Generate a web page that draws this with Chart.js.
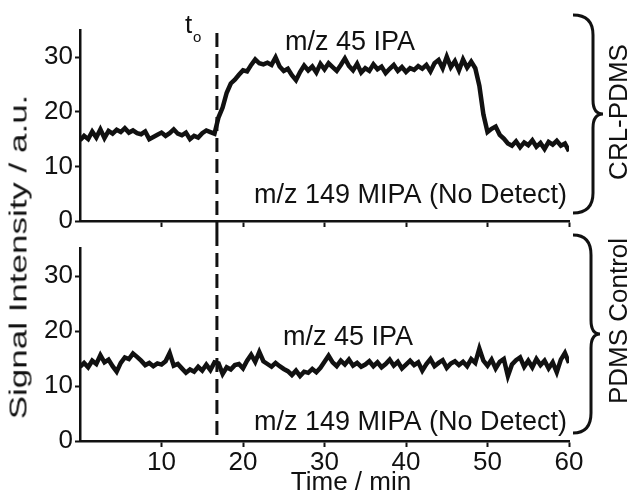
<!DOCTYPE html>
<html>
<head>
<meta charset="utf-8">
<script src="https://cdn.jsdelivr.net/npm/chart.js@4.4.1/dist/chart.umd.min.js"></script>
<style>
    body { margin: 0; background: #fff; }
    #wrap { position: relative; width: 633px; height: 493px; overflow: hidden; }
    canvas { position: absolute; left: 0; }
    #ytitle {
        position: absolute; left: 19px; top: 257px;
        font: 23px "Liberation Sans", Arial, sans-serif; color: #111;
        white-space: nowrap;
        transform: translate(-50%, -50%) rotate(-90deg) scaleX(1.52);
    }
</style>
</head>
<body>
<div id="wrap">
    <canvas id="chartTop" width="633" height="232" style="top:0"></canvas>
    <canvas id="chartBottom" width="633" height="261" style="top:232px"></canvas>
    <div id="ytitle">Signal Intensity / a.u.</div>
</div>
<script>
// sample times (min)
const times = [
    0, 0.5, 1, 1.5, 2, 2.5, 3, 3.5, 4, 4.5, 5, 5.5, 6, 6.5, 7, 7.5, 8, 8.5, 9, 9.5,
    10, 10.5, 11, 11.5, 12, 12.5, 13, 13.5, 14, 14.5, 15, 15.5, 16, 16.5, 17, 17.5, 18, 18.5, 19, 19.5,
    20, 20.5, 21, 21.5, 22, 22.5, 23, 23.5, 24, 24.5, 25, 25.5, 26, 26.5, 27, 27.5, 28, 28.5, 29, 29.5,
    30, 30.5, 31, 31.5, 32, 32.5, 33, 33.5, 34, 34.5, 35, 35.5, 36, 36.5, 37, 37.5, 38, 38.5, 39, 39.5,
    40, 40.5, 41, 41.5, 42, 42.5, 43, 43.5, 44, 44.5, 45, 45.5, 46, 46.5, 47, 47.5, 48, 48.5, 49, 49.5,
    50, 50.5, 51, 51.5, 52, 52.5, 53, 53.5, 54, 54.5, 55, 55.5, 56, 56.5, 57, 57.5, 58, 58.5, 59, 59.5,
    60
];

// m/z 45 IPA on CRL-PDMS
const crlSignal = [
    14.8, 15.6, 15.0, 16.4, 15.3, 16.8, 15.2, 16.5, 16.0, 16.7, 16.3, 17.0, 16.2, 16.6, 16.1, 15.9, 16.4, 15.0, 15.4, 15.8,
    16.2, 15.6, 16.1, 16.8, 16.0, 15.7, 16.2, 15.0, 15.6, 15.3, 16.1, 16.6, 16.3, 16.0, 19.0, 20.8, 23.5, 25.2, 25.9, 26.8,
    27.6, 27.4, 28.6, 29.6, 28.9, 28.7, 29.0, 28.6, 30.0, 28.3, 27.5, 27.9, 26.7, 25.8, 27.3, 28.5, 27.6, 28.3, 27.2, 28.8,
    27.8, 28.9, 28.2, 27.5, 28.6, 29.8, 28.4, 27.6, 28.8, 27.2, 28.0, 27.5, 28.7, 27.8, 28.3, 27.1, 27.9, 28.6, 27.5, 28.2,
    27.3, 28.0, 27.7, 28.4, 27.9, 28.6, 27.4, 28.9, 29.5, 28.0, 30.1, 28.2, 29.3, 27.6, 29.6, 28.1, 29.2, 28.0, 24.8, 19.5,
    16.3, 16.9, 17.3, 15.8, 15.1, 14.2, 13.8, 14.6, 13.5, 14.4, 13.9, 14.8, 13.6, 14.3, 13.2, 14.5, 14.0, 14.7, 13.8, 14.2,
    12.8
];

// m/z 45 IPA on PDMS control
const controlSignal = [
    13.5, 14.2, 13.4, 14.6, 14.0, 15.6, 14.3, 14.8, 13.6, 12.6, 14.2, 15.2, 14.9, 15.9, 15.3, 14.6, 13.8, 14.2, 13.6, 14.1,
    13.9, 14.5, 16.0, 13.7, 14.0, 13.2, 12.4, 13.0, 12.6, 13.5, 12.8, 13.9, 12.9, 14.3, 14.1, 12.2, 13.4, 13.0, 13.8, 14.0,
    13.2, 14.6, 15.7, 14.4, 16.2, 14.5, 14.0, 13.5, 14.2, 13.6, 13.1, 12.7, 12.0, 12.8, 11.8, 12.6, 12.4, 13.1, 12.5, 13.3,
    14.4, 15.5, 14.3, 13.6, 14.6, 13.9, 14.8, 13.7, 14.2, 13.5, 13.9, 14.5, 13.6, 14.3, 13.4, 14.0, 14.8, 13.7, 14.4, 13.2,
    13.9, 14.6, 13.8, 14.3, 12.8, 14.0, 14.9, 13.6, 14.2, 14.7, 13.3, 14.1, 14.5, 13.8, 14.4, 13.6, 14.9, 14.2, 16.8, 14.6,
    13.7, 14.8, 13.2, 14.4, 14.9, 11.8, 13.9, 14.7, 15.2, 13.5, 14.6, 13.4, 14.9, 13.8, 14.6, 13.2, 14.3, 12.5, 14.8, 16.0,
    14.2
];

const xTicks = [10, 20, 30, 40, 50, 60];
const yTickLabels = [0, 10, 20, 30];
const injectTime = 16.8; // t_o

const FONT = '"Liberation Sans", Arial, sans-serif';
const INK = '#111';

function toPoints(values) {
    return values.map(function (v, i) {
        return { x: times[i], y: v };
    });
}

function drawBrace(ctx, endX, spineX, tipX, y0, y1) {
    const mid = (y0 + y1) / 2;
    ctx.save();
    ctx.strokeStyle = INK;
    ctx.lineWidth = 3;
    ctx.beginPath();
    ctx.moveTo(endX, y0);
    ctx.quadraticCurveTo(spineX, y0, spineX, y0 + 20);
    ctx.lineTo(spineX, mid - 14);
    ctx.quadraticCurveTo(spineX, mid, tipX, mid);
    ctx.quadraticCurveTo(spineX, mid, spineX, mid + 14);
    ctx.lineTo(spineX, y1 - 20);
    ctx.quadraticCurveTo(spineX, y1, endX, y1);
    ctx.stroke();
    ctx.restore();
}

function drawVertical(ctx, text, x, y) {
    ctx.save();
    ctx.translate(x, y);
    ctx.rotate(-Math.PI / 2);
    ctx.textAlign = 'center';
    ctx.textBaseline = 'middle';
    ctx.fillText(text, 0, 0);
    ctx.restore();
}

// annotations for each panel, in canvas pixels
const topNotes = {
    id: 'topNotes',
    afterDraw(chart) {
        const ctx = chart.ctx;
        const xs = chart.scales.x;
        const px = xs.getPixelForValue(injectTime);
        ctx.save();
        ctx.strokeStyle = INK;
        ctx.lineWidth = 3;
        ctx.setLineDash([14, 7]);
        ctx.beginPath();
        ctx.moveTo(px, 33);
        ctx.lineTo(px, chart.height);
        ctx.stroke();
        ctx.setLineDash([]);

        ctx.fillStyle = INK;
        ctx.textBaseline = 'alphabetic';
        ctx.textAlign = 'left';
        ctx.font = '26px ' + FONT;
        ctx.fillText('t', 185, 33);
        ctx.font = '15px ' + FONT;
        ctx.fillText('o', 193, 42);

        ctx.font = '27px ' + FONT;
        ctx.textAlign = 'center';
        ctx.fillText('m/z 45 IPA', 350, 50);
        ctx.textAlign = 'right';
        ctx.fillText('m/z 149 MIPA (No Detect)', 567, 203);

        drawBrace(ctx, 573, 593, 603, 15, 213);
        ctx.font = '26px ' + FONT;
        drawVertical(ctx, 'CRL-PDMS', 620, 112);
        ctx.restore();
    }
};

const bottomNotes = {
    id: 'bottomNotes',
    afterDraw(chart) {
        const ctx = chart.ctx;
        const xs = chart.scales.x;
        const px = xs.getPixelForValue(injectTime);
        ctx.save();
        ctx.strokeStyle = INK;
        ctx.lineWidth = 3;
        ctx.setLineDash([14, 7]);
        ctx.beginPath();
        ctx.moveTo(px, 0);
        ctx.lineTo(px, 437 - 232);
        ctx.stroke();
        ctx.setLineDash([]);

        ctx.fillStyle = INK;
        ctx.font = '27px ' + FONT;
        ctx.textBaseline = 'alphabetic';
        ctx.textAlign = 'left';
        ctx.fillText('m/z 45 IPA', 283, 345 - 232);
        ctx.textAlign = 'right';
        ctx.fillText('m/z 149 MIPA (No Detect)', 567, 430 - 232);

        drawBrace(ctx, 573, 591, 600, 235 - 232, 433 - 232);
        ctx.font = '26px ' + FONT;
        drawVertical(ctx, 'PDMS Control', 620, 321 - 232);

        ctx.font = '26px ' + FONT;
        ctx.textAlign = 'center';
        ctx.fillText('Time / min', 351, 490 - 232);
        ctx.restore();
    }
};

function makeConfig(values, opts) {
    return {
        type: 'line',
        data: {
            datasets: [{
                data: toPoints(values),
                borderColor: INK,
                borderWidth: 4.5,
                pointRadius: 0,
                tension: 0,
                fill: false
            }]
        },
        options: {
            responsive: false,
            animation: false,
            events: [],
            layout: { padding: { left: 0, right: 64, top: opts.padTop, bottom: 0 } },
            plugins: { legend: { display: false }, tooltip: { enabled: false } },
            scales: {
                x: {
                    type: 'linear',
                    min: 0,
                    max: 60,
                    afterBuildTicks: function (scale) {
                        scale.ticks = xTicks.map(function (v) { return { value: v }; });
                    },
                    ticks: {
                        display: opts.showX,
                        font: { family: FONT, size: 26 },
                        color: INK,
                        padding: 0,
                        maxRotation: 0,
                        autoSkip: false
                    },
                    grid: { drawOnChartArea: false, drawTicks: true, tickLength: 6, tickColor: INK, tickWidth: 2 },
                    border: { display: true, color: INK, width: 2.5 },
                    afterFit: function (scale) {
                        scale.height = opts.xHeight;
                        scale.paddingLeft = 0;
                        scale.paddingRight = 0;
                    }
                },
                y: {
                    min: 0,
                    max: 35,
                    ticks: {
                        stepSize: 5,
                        font: { family: FONT, size: 26 },
                        color: INK,
                        padding: 2,
                        callback: function (v) {
                            return yTickLabels.indexOf(v) >= 0 ? String(v) : '';
                        }
                    },
                    grid: { drawOnChartArea: false, drawTicks: true, tickLength: 5, tickColor: INK, tickWidth: 2 },
                    border: { display: true, color: INK, width: 2.5 },
                    afterFit: function (scale) {
                        scale.width = 80;
                        scale.paddingTop = 0;
                        scale.paddingBottom = 0;
                    }
                }
            }
        },
        plugins: [opts.notes]
    };
}

new Chart(document.getElementById('chartTop').getContext('2d'),
    makeConfig(crlSignal, { padTop: 30, xHeight: 11, showX: false, notes: topNotes }));

new Chart(document.getElementById('chartBottom').getContext('2d'),
    makeConfig(controlSignal, { padTop: 16.5, xHeight: 52, showX: true, notes: bottomNotes }));
</script>
</body>
</html>
